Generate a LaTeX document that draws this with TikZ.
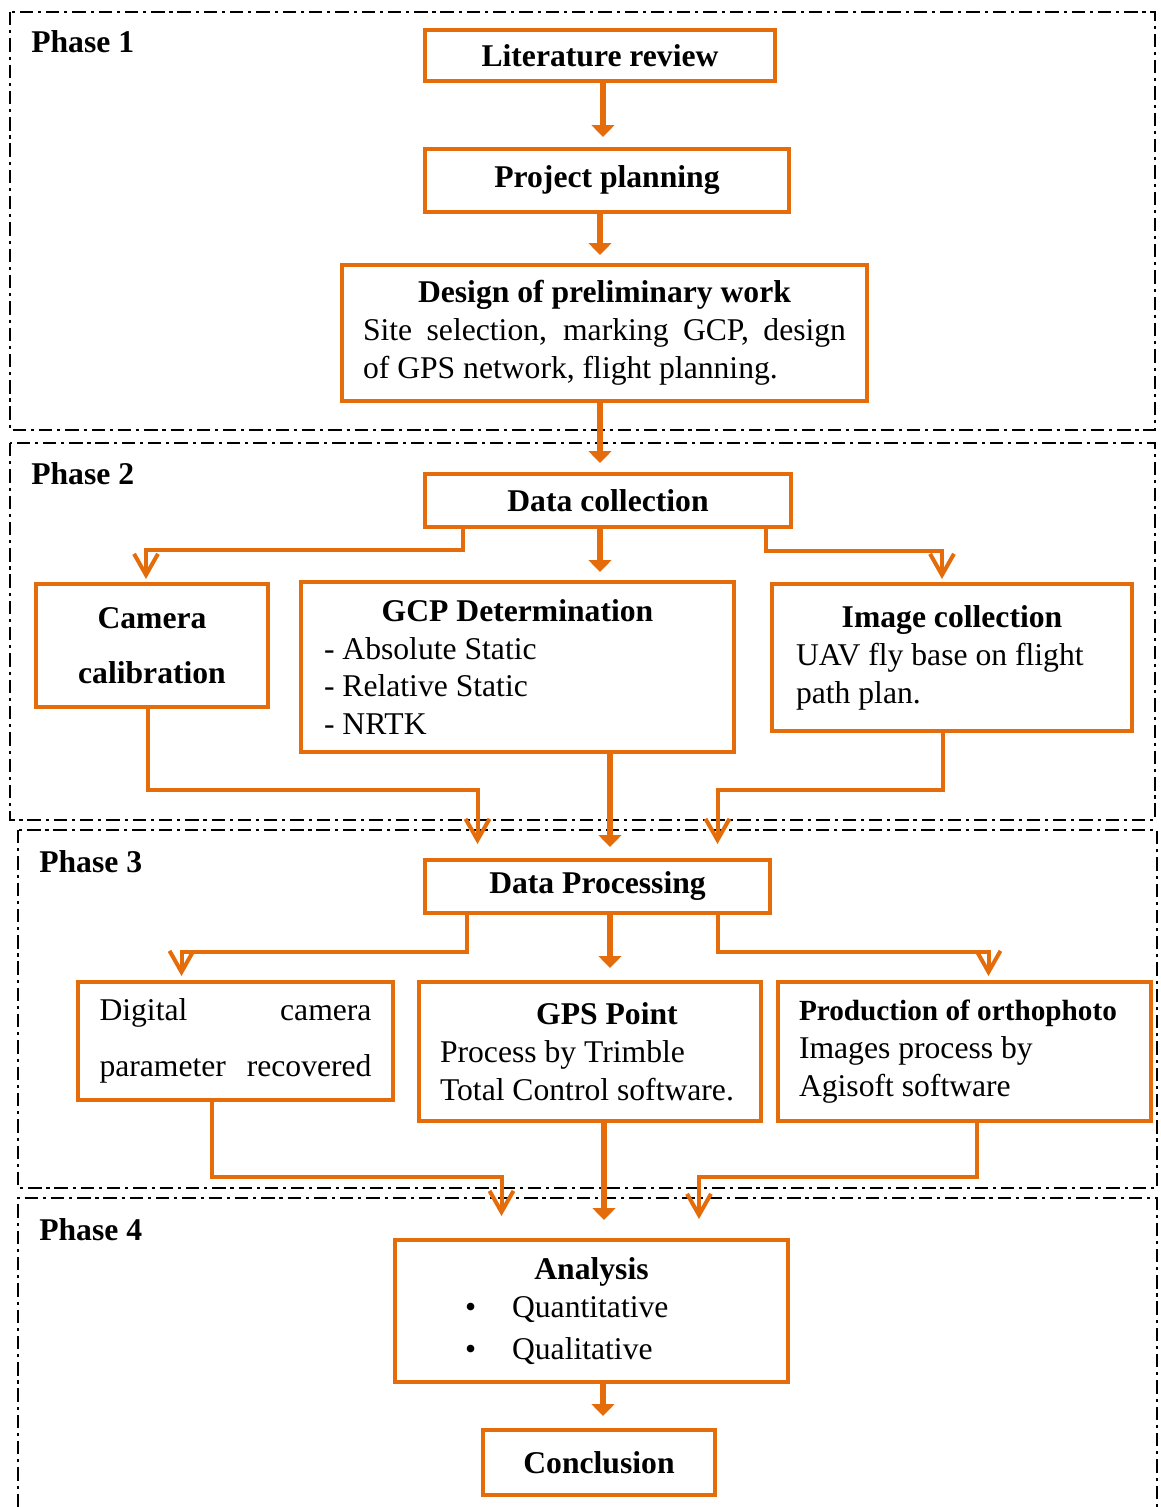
\documentclass[tikz,border=0pt]{standalone}
\usepackage{fontspec}
\setmainfont{Liberation Serif}
\usepackage{tikz}
\usetikzlibrary{arrows.meta}
\newlength{\pxu}
\setlength{\pxu}{0.025cm}
\definecolor{orng}{RGB}{228,108,10}
\tikzset{%
  box/.style={draw=orng, line width=4\pxu, inner sep=0pt, font=\fontsize{22.5}{27}\selectfont},
  phase/.style={line width=2.7\pxu, dash pattern=on 9.5pt off 3.5pt on 2.2pt off 3.5pt},
  phaselabel/.style={anchor=base west, inner sep=0pt, font=\fontsize{22.5}{27}\selectfont\bfseries},
  bigarrow/.style={draw=orng, line width=6\pxu, -{Triangle[width=16pt, length=8.5pt]}},
  sidearrow/.style={draw=orng, line width=4\pxu, -{Straight Barb[width=17pt, length=15pt]}},
}

\begin{document}
\begin{tikzpicture}[x=0.025cm, y=-0.025cm]
    \useasboundingbox (0,0) rectangle (1161,1507);

    %phase frames
    \draw[phase] (10,12) rectangle (1155,430);
    \draw[phase] (10,443) rectangle (1155,820);
    \draw[phase] (18,830) rectangle (1157,1188);
    \draw[phase] (18,1507) |- (1157,1198) -- (1157,1507);
    \node[phaselabel] (p1) at (31,52) {Phase 1};
    \node[phaselabel] (p2) at (31,484) {Phase 2};
    \node[phaselabel] (p3) at (39,872) {Phase 3};
    \node[phaselabel] (p4) at (39,1240) {Phase 4};

    %phase 1
    \node[box, minimum width=350\pxu, minimum height=51\pxu] (lit) at (600,55.5) {\bfseries Literature review};
    \node[box, minimum width=364\pxu, minimum height=63\pxu] (plan) at (607,180.5) {\bfseries Project planning};
    \node[box, minimum width=525\pxu, minimum height=136\pxu, text width=483\pxu, align=flush left] (design) at (604.5,333) {%
      \makebox[\linewidth]{\bfseries Design of preliminary work}\\
      \makebox[\linewidth][s]{Site selection, marking GCP, design}\\
      of GPS network, flight planning.};

    %phase 2
    \node[box, minimum width=366\pxu, minimum height=53\pxu] (dcol) at (608,500.5) {\bfseries Data collection};
    \node[box, minimum width=232\pxu, minimum height=123\pxu, align=flush center] (cam) at (152,645.5) {\bfseries Camera\\[12pt]\bfseries calibration};
    \node[box, minimum width=433\pxu, minimum height=170\pxu, text width=387\pxu, align=flush left] (gcp) at (517.5,667) {%
      \makebox[\linewidth]{\bfseries GCP Determination}\\
      - Absolute Static\\
      - Relative Static\\
      - NRTK};
    \node[box, minimum width=360\pxu, minimum height=147\pxu, text width=312\pxu, align=flush left] (img) at (952,657.5) {%
      \makebox[\linewidth]{\bfseries Image collection}\\
      UAV fly base on flight\\
      path plan.};

    %phase 3
    \node[box, minimum width=345\pxu, minimum height=53\pxu] (dproc) at (597.5,886.5) {\bfseries Data Processing};
    \node[box, minimum width=315\pxu, minimum height=118\pxu, text width=272\pxu, align=flush left] (dig) at (235.5,1041) {%
      \makebox[\linewidth][s]{Digital camera}\\[13pt]
      \makebox[\linewidth][s]{parameter recovered}};
    \node[box, minimum width=342\pxu, minimum height=139\pxu, text width=300\pxu, align=flush left] (gps) at (590,1051.5) {%
      \makebox[\linewidth]{\hspace{34\pxu}\bfseries GPS Point}\\
      Process by Trimble\\
      Total Control software.};
    \node[box, minimum width=373\pxu, minimum height=139\pxu, text width=331\pxu, align=flush left] (ortho) at (964.5,1051.5) {%
      \mbox{\fontsize{20.8}{27}\selectfont\bfseries Production of orthophoto}\\
      Images process by\\
      Agisoft software};

    %phase 4
    \node[box, minimum width=393\pxu, minimum height=142\pxu, text width=349\pxu, align=flush left] (ana) at (591.5,1311) {%
      \makebox[\linewidth]{\bfseries Analysis}\\
      \hspace*{48\pxu}\textbullet\hspace{36\pxu}Quantitative\\[3pt]
      \hspace*{48\pxu}\textbullet\hspace{36\pxu}Qualitative};
    \node[box, minimum width=232\pxu, minimum height=65\pxu] (conc) at (599,1462.5) {\bfseries Conclusion};

    %straight arrows
    \draw[bigarrow, shorten >=10\pxu] ([shift={(3,0)}]lit.south) -- ([shift={(3,0)}]lit.south |- plan.north);
    \draw[bigarrow, shorten >=8\pxu] ([shift={(-7,0)}]plan.south) -- ([shift={(-7,0)}]plan.south |- design.north);
    \draw[bigarrow, shorten >=9\pxu] ([shift={(-4.5,0)}]design.south) -- ([shift={(-4.5,0)}]design.south |- dcol.north);
    \draw[bigarrow, shorten >=8\pxu] ([shift={(-8,0)}]dcol.south) -- ([shift={(-8,0)}]dcol.south |- gcp.north);
    \draw[bigarrow, shorten >=11\pxu] ([shift={(12.5,0)}]dproc.north |- gcp.south) -- ([shift={(12.5,0)}]dproc.north);
    \draw[bigarrow, shorten >=12\pxu] ([shift={(12.5,0)}]dproc.south) -- ([shift={(12.5,0)}]dproc.south |- gps.north);
    \draw[bigarrow, shorten >=18\pxu] ([shift={(12.5,0)}]ana.north |- gps.south) -- ([shift={(12.5,0)}]ana.north);
    \draw[bigarrow, shorten >=12\pxu] ([shift={(4,0)}]conc.north |- ana.south) -- ([shift={(4,0)}]conc.north);

    %branching arrows
    \draw[sidearrow, shorten >=3\pxu] ([shift={(-145,0)}]dcol.south) -- ++(0,21) -| ([shift={(-6,0)}]cam.north);
    \draw[sidearrow, shorten >=3\pxu] ([shift={(158,0)}]dcol.south) -- ++(0,22) -| ([shift={(-10,0)}]img.north);
    \draw[sidearrow, shorten >=14\pxu] ([shift={(-4,0)}]cam.south) -- ++(0,81) -| ([shift={(-120,0)}]dproc.north);
    \draw[sidearrow, shorten >=14\pxu] ([shift={(-9,0)}]img.south) -- ++(0,57) -| ([shift={(120,0)}]dproc.north);
    \draw[sidearrow, shorten >=4\pxu] ([shift={(-131,0)}]dproc.south) -- ++(0,37) -| ([shift={(-54,0)}]dig.north);
    \draw[sidearrow, shorten >=4\pxu] ([shift={(120,0)}]dproc.south) -- ++(0,37) -| ([shift={(24,0)}]ortho.north);
    \draw[sidearrow, shorten >=22\pxu] ([shift={(-24,0)}]dig.south) -- ++(0,75) -| ([shift={(-90,0)}]ana.north);
    \draw[sidearrow, shorten >=19\pxu] ([shift={(12.5,0)}]ortho.south) -- ++(0,54) -| ([shift={(107.5,0)}]ana.north);

\end{tikzpicture}
\end{document}
